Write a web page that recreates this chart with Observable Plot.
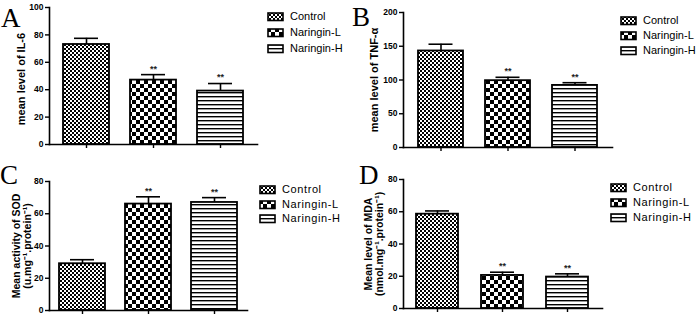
<!DOCTYPE html>
<html>
<head>
<meta charset="utf-8">
<script src="https://cdn.jsdelivr.net/npm/d3@7"></script>
<script src="https://cdn.jsdelivr.net/npm/@observablehq/plot@0.6"></script>
<style>
  html, body { margin: 0; padding: 0; background: #fff; }
  #root { position: relative; width: 700px; height: 315px; overflow: hidden; background: #fff; }
  .panel { position: absolute; }
  .letter { position: absolute; font-family: "Liberation Serif", "DejaVu Serif", serif; font-size: 27px; line-height: 1; color: #000; }
  .legend { position: absolute; font-family: "Liberation Sans", Arial, sans-serif; font-size: 11px; color: #000; }
  .legend .row { position: absolute; left: 0; white-space: nowrap; height: 12px; }
  .legend svg { position: absolute; left: 0; top: 2px; }
  .legend span { position: absolute; top: -1px; line-height: 14px; }
</style>
</head>
<body>
<svg width="0" height="0" style="position:absolute">
  <defs>
    <pattern id="pat-control" patternUnits="userSpaceOnUse" width="4" height="4">
      <rect width="4" height="4" fill="#fff"/>
      <rect x="0" y="0" width="2" height="2" fill="#000"/>
      <rect x="2" y="2" width="2" height="2" fill="#000"/>
    </pattern>
    <pattern id="pat-low" patternUnits="userSpaceOnUse" width="8" height="8">
      <rect width="8" height="8" fill="#fff"/>
      <rect x="0" y="0" width="4" height="4" fill="#000"/>
      <rect x="4" y="4" width="4" height="4" fill="#000"/>
    </pattern>
    <pattern id="pat-high" patternUnits="userSpaceOnUse" width="4" height="4">
      <rect width="4" height="4" fill="#fff"/>
      <rect x="0" y="0" width="4" height="1.4" fill="#000"/>
    </pattern>
  </defs>
</svg>
<div id="root"></div>
<script>
// ---- data ----
const groups = ["Control", "Naringin-L", "Naringin-H"];
const significance = ["", "**", "**"];

const il6Mean = [73, 47, 39];
const il6Err = [4.5, 4, 5.5];

const tnfMean = [143, 99, 92];
const tnfErr = [10, 5, 4];

const sodMean = [29, 66, 67];
const sodErr = [2.5, 4.5, 3];

const mdaMean = [58.5, 20.5, 19.5];
const mdaErr = [2, 2, 2];

const panelLetters = ["A", "B", "C", "D"];
const yLabels = [
  "mean level of IL-6",
  "mean level of TNF-α",
  "Mean activity of SOD\n(u.mg⁻¹.protein⁻¹)",
  "Mean level of MDA\n(nmol.mg⁻¹.protein⁻¹)"
];
const yTicksA = [0, 20, 40, 60, 80, 100];
const yTicksB = [0, 50, 100, 150, 200];
const yTicksC = [0, 20, 40, 60, 80];
const yTicksD = [0, 20, 40, 60, 80];

// ---- styling ----
const patterns = ["url(#pat-control)", "url(#pat-low)", "url(#pat-high)"];

const panels = [
  {letter: panelLetters[0], label: yLabels[0], mean: il6Mean, err: il6Err, ticks: yTicksA, domain: [0, 100],
   left: 0, top: 0, width: 350, height: 160, ml: 49, mr: 93, mt: 7, mb: 16, pi: 0.32, po: 0.2, labelDx: -28, labelDy: 3, labelSize: 11,
   letterPos: [1, 5], legendPos: [267, 10], legendStep: 16, textX: 23, spacing: 0},
  {letter: panelLetters[1], label: yLabels[1], mean: tnfMean, err: tnfErr, ticks: yTicksB, domain: [0, 200],
   left: 350, top: 0, width: 350, height: 160, ml: 53, mr: 88, mt: 12, mb: 13, pi: 0.33, po: 0.215, labelDx: -29, labelDy: 0, labelSize: 11,
   letterPos: [352, 4], legendPos: [620, 14], legendStep: 15, textX: 23, spacing: 0},
  {letter: panelLetters[2], label: yLabels[2], mean: sodMean, err: sodErr, ticks: yTicksC, domain: [0, 80],
   left: 0, top: 160, width: 350, height: 155, ml: 49, mr: 103, mt: 21, mb: 5, pi: 0.3, po: 0.15, labelDx: -27.5, labelDy: 0, labelSize: 10.5,
   letterPos: [0, 162], legendPos: [259, 183], legendStep: 14.5, textX: 23, spacing: 0.6},
  {letter: panelLetters[3], label: yLabels[3], mean: mdaMean, err: mdaErr, ticks: yTicksD, domain: [0, 80],
   left: 350, top: 160, width: 350, height: 155, ml: 53, mr: 98, mt: 19, mb: 7, pi: 0.35, po: 0.2, labelDx: -29.5, labelDy: 0, labelSize: 10.5,
   letterPos: [359, 162], legendPos: [610, 181], legendStep: 15, textX: 23, spacing: 0.6}
];

const root = document.getElementById("root");

for (const p of panels) {
  const data = groups.map((g, i) => ({group: g, mean: p.mean[i], top: p.mean[i] + p.err[i], sig: significance[i], i}));
  const bw = d3.scaleBand().domain(groups).range([p.ml, p.width - p.mr])
    .paddingInner(p.pi).paddingOuter(p.po).round(true).bandwidth();
  const capInset = Math.max(0, (bw - 24) / 2);

  const chart = Plot.plot({
    width: p.width,
    height: p.height,
    marginLeft: p.ml,
    marginRight: p.mr,
    marginTop: p.mt,
    marginBottom: p.mb,
    style: {fontFamily: "'Liberation Sans', Arial, sans-serif", fontSize: "8.5px", fontWeight: "bold", color: "#000", background: "transparent", overflow: "visible"},
    x: {domain: groups, paddingInner: p.pi, paddingOuter: p.po, round: true, axis: null},
    y: {domain: p.domain, axis: null},
    marks: [
      // error bars (upward)
      Plot.ruleX(data, {x: "group", y1: "mean", y2: "top", stroke: "#000", strokeWidth: 1.6}),
      Plot.tickY(data, {x: "group", y: "top", stroke: "#000", strokeWidth: 1.6, insetLeft: capInset, insetRight: capInset}),
      // bars with patterns
      ...groups.map((g, i) => Plot.barY(data.filter(d => d.i === i), {
        x: "group", y: "mean", fill: patterns[i], stroke: "#000", strokeWidth: 1.8
      })),
      // significance marks
      Plot.text(data.filter(d => d.sig), {x: "group", y: "top", text: "sig", dy: -6, fontSize: 9, fontWeight: "bold", fill: "#222"}),
      // axes
      Plot.axisY({ticks: p.ticks, tickSize: 4, tickPadding: 2, tickFormat: d3.format("d"), strokeWidth: 1.4, label: null}),
      Plot.axisX({tickSize: 4, tickFormat: () => "", strokeWidth: 1.4, label: null}),
      Plot.frame({anchor: "left", stroke: "#000", strokeWidth: 1.6}),
      Plot.frame({anchor: "bottom", stroke: "#000", strokeWidth: 1.6}),
      // y label
      Plot.text([p.label], {
        frameAnchor: "left", text: d => d, rotate: -90, dx: p.labelDx, dy: p.labelDy,
        textAnchor: "middle", lineAnchor: "middle",
        fontSize: p.labelSize, fontWeight: "bold", lineHeight: 1.05, fill: "#000"
      })
    ]
  });
  chart.classList.add("panel");
  chart.style.left = p.left + "px";
  chart.style.top = p.top + "px";
  root.appendChild(chart);

  // panel letter
  const L = document.createElement("div");
  L.className = "letter";
  L.textContent = p.letter;
  L.style.left = p.letterPos[0] + "px";
  L.style.top = p.letterPos[1] + "px";
  root.appendChild(L);

  // legend
  const leg = document.createElement("div");
  leg.className = "legend";
  leg.style.left = p.legendPos[0] + "px";
  leg.style.top = p.legendPos[1] + "px";
  groups.forEach((g, i) => {
    const row = document.createElement("div");
    row.className = "row";
    row.style.top = (i * p.legendStep) + "px";
    row.innerHTML = `<svg width="18" height="10"><rect x="1" y="1" width="15" height="7.5" fill="${patterns[i]}" stroke="#000" stroke-width="1.6"/></svg><span style="left:${p.textX}px;letter-spacing:${p.spacing}px">${g}</span>`;
    leg.appendChild(row);
  });
  root.appendChild(leg);
}
</script>
</body>
</html>
